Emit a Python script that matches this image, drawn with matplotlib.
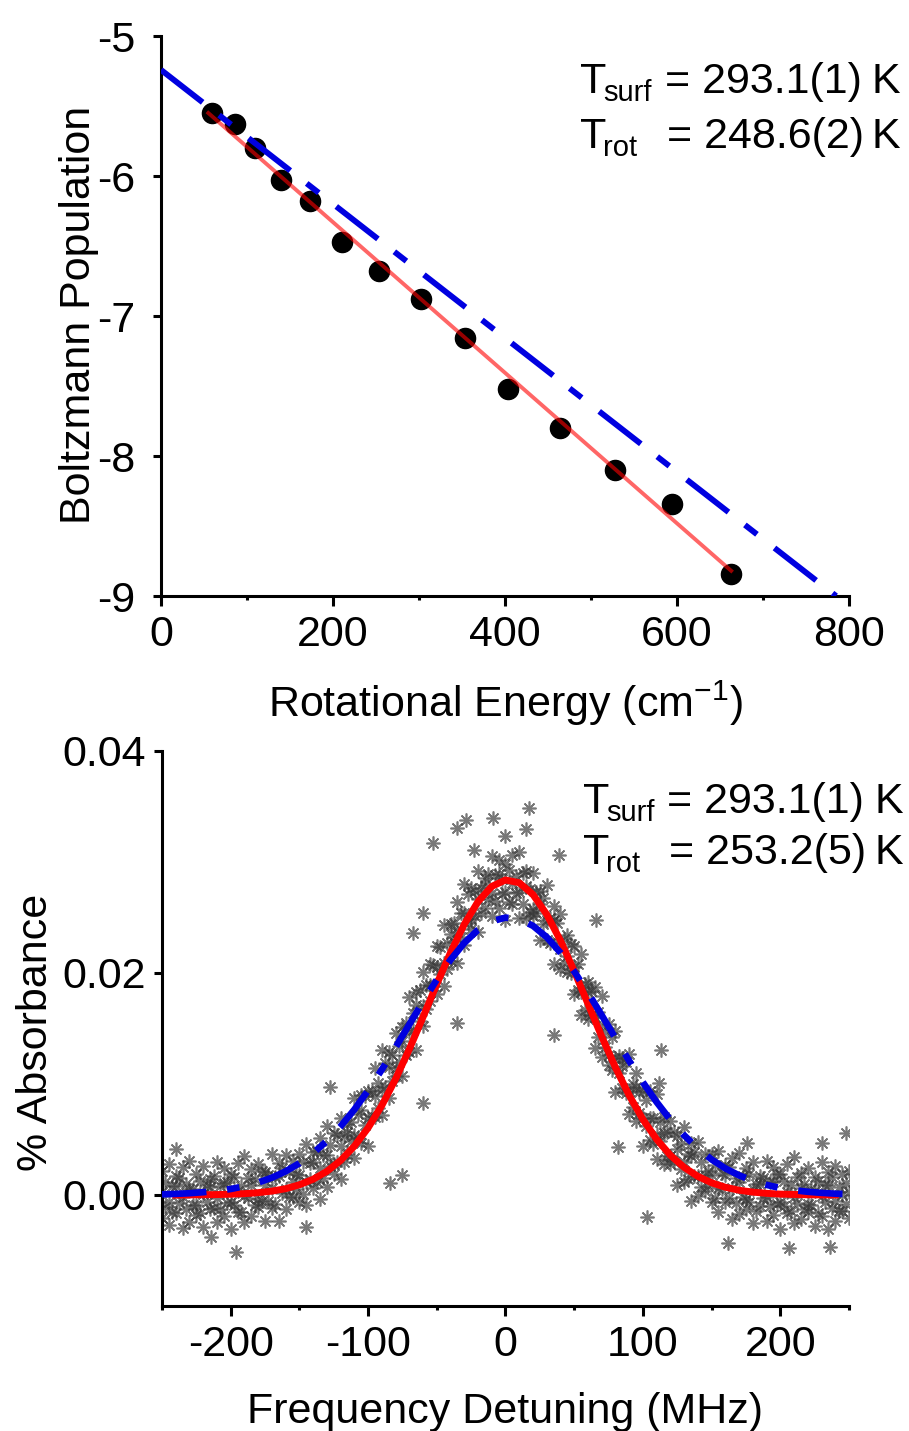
import matplotlib
matplotlib.use('Agg')
import matplotlib.pyplot as plt
from matplotlib.ticker import MultipleLocator, FixedLocator
import numpy as np

plt.rcParams['font.family'] = ['Liberation Sans', 'DejaVu Sans']
plt.rcParams['mathtext.fontset'] = 'custom'
plt.rcParams['mathtext.rm'] = 'Liberation Sans'
plt.rcParams['mathtext.default'] = 'regular'
plt.rcParams['axes.unicode_minus'] = False
plt.rcParams['lines.scale_dashes'] = False

# ---------------- data: top panel (Boltzmann plot) ----------------
rot_energy = [59, 86, 109, 139, 173, 211, 254, 302, 353, 404, 464, 528, 594, 663]
boltz_pop = [-5.55, -5.63, -5.80, -6.03, -6.18, -6.47, -6.68, -6.88, -7.16,
             -7.52, -7.80, -8.10, -8.34, -8.84]
fit_rot_x = [55, 663]
fit_rot_y = [-5.55, -8.82]
surf_x = [0, 785]
surf_y = [-5.242, -9.0]

# ---------------- data: bottom panel (Doppler profile) ----------------
detuning = [-250, -245, -240, -235, -230, -225, -220, -215, -210, -205,
            -200, -195, -190, -185, -180, -175, -170, -165, -160, -155,
            -150, -145, -140, -135, -130, -125, -120, -115, -110, -105,
            -100, -95, -90, -85, -80, -75, -70, -65, -60, -55,
            -50, -45, -40, -35, -30, -25, -20, -15, -10, -5,
            0, 5, 10, 15, 20, 25, 30, 35, 40, 45,
            50, 55, 60, 65, 70, 75, 80, 85, 90, 95,
            100, 105, 110, 115, 120, 125, 130, 135, 140, 145,
            150, 155, 160, 165, 170, 175, 180, 185, 190, 195,
            200, 205, 210, 215, 220, 225, 230, 235, 240, 245, 250]
absorb_hi = [0.0022, 0.0028, 0.0017, 0.0025, 0.0031, 0.0019, 0.0026, 0.0014, 0.0030, 0.0024,
             0.0019, 0.0029, 0.0035, 0.0023, 0.0028, 0.0021, 0.0037, 0.0029, 0.0036, 0.0031,
             0.0037, 0.0046, 0.0039, 0.0051, 0.0062, 0.0056, 0.0069, 0.0064, 0.0087, 0.0090,
             0.0094, 0.0114, 0.0131, 0.0129, 0.0146, 0.0151, 0.0178, 0.0183, 0.0201, 0.0208,
             0.0224, 0.0243, 0.0244, 0.0264, 0.0280, 0.0277, 0.0292, 0.0286, 0.0305, 0.0302,
             0.0298, 0.0306, 0.0309, 0.0292, 0.0290, 0.0274, 0.0279, 0.0260, 0.0253, 0.0234,
             0.0224, 0.0217, 0.0192, 0.0187, 0.0179, 0.0154, 0.0148, 0.0123, 0.0127, 0.0110,
             0.0094, 0.0094, 0.0091, 0.0070, 0.0067, 0.0053, 0.0061, 0.0047, 0.0048, 0.0037,
             0.0037, 0.0040, 0.0027, 0.0033, 0.0038, 0.0024, 0.0030, 0.0017, 0.0031, 0.0025,
             0.0019, 0.0028, 0.0034, 0.0020, 0.0024, 0.0016, 0.0030, 0.0021, 0.0026, 0.0019, 0.0022]
absorb_mid = [0.0003, -0.0006, 0.0008, -0.0002, 0.0005, -0.0009, 0.0001, 0.0007, -0.0003, 0.0011,
              -0.0006, 0.0004, -0.0001, 0.0009, -0.0004, 0.0009, 0.0006, 0.0017, 0.0005, 0.0012,
              0.0018, 0.0012, 0.0030, 0.0024, 0.0036, 0.0028, 0.0044, 0.0057, 0.0054, 0.0077,
              0.0069, 0.0089, 0.0095, 0.0115, 0.0114, 0.0139, 0.0147, 0.0171, 0.0170, 0.0189,
              0.0205, 0.0209, 0.0235, 0.0237, 0.0254, 0.0249, 0.0267, 0.0279, 0.0272, 0.0289,
              0.0273, 0.0281, 0.0273, 0.0278, 0.0258, 0.0262, 0.0248, 0.0248, 0.0222, 0.0215,
              0.0205, 0.0183, 0.0183, 0.0160, 0.0153, 0.0126, 0.0123, 0.0116, 0.0094, 0.0097,
              0.0069, 0.0069, 0.0055, 0.0056, 0.0035, 0.0041, 0.0030, 0.0035, 0.0017, 0.0018,
              0.0018, 0.0006, 0.0018, 0.0006, 0.0012, -0.0004, 0.0005, 0.0010, -0.0002, 0.0012,
              -0.0006, 0.0003, -0.0002, 0.0006, -0.0008, 0.0004, -0.0001, 0.0009, -0.0005, 0.0000, 0.0003]
absorb_lo = [-0.0021, -0.0027, -0.0016, -0.0030, -0.0024, -0.0018, -0.0029, -0.0013, -0.0024, -0.0019,
             -0.0031, -0.0015, -0.0024, -0.0019, -0.0011, -0.0023, -0.0012, -0.0023, -0.0013, -0.0002,
             -0.0006, -0.0009, 0.0006, -0.0004, 0.0007, 0.0019, 0.0014, 0.0037, 0.0033, 0.0047,
             0.0044, 0.0070, 0.0072, 0.0087, 0.0107, 0.0107, 0.0129, 0.0131, 0.0152, 0.0175,
             0.0181, 0.0188, 0.0211, 0.0209, 0.0225, 0.0240, 0.0237, 0.0259, 0.0251, 0.0259,
             0.0248, 0.0262, 0.0250, 0.0250, 0.0251, 0.0230, 0.0230, 0.0208, 0.0204, 0.0201,
             0.0181, 0.0162, 0.0159, 0.0132, 0.0124, 0.0117, 0.0093, 0.0096, 0.0073, 0.0067,
             0.0044, 0.0050, 0.0032, 0.0028, 0.0028, 0.0009, 0.0012, -0.0005, -0.0001, 0.0004,
             -0.0006, -0.0015, -0.0006, -0.0022, -0.0017, -0.0013, -0.0025, -0.0010, -0.0023, -0.0018,
             -0.0031, -0.0016, -0.0025, -0.0022, -0.0015, -0.0028, -0.0019, -0.0031, -0.0023, -0.0014, -0.0021]
detuning_half = [-247.5, -242.5, -237.5, -232.5, -227.5, -222.5, -217.5, -212.5, -207.5, -202.5,
                 -197.5, -192.5, -187.5, -182.5, -177.5, -172.5, -167.5, -162.5, -157.5, -152.5,
                 -147.5, -142.5, -137.5, -132.5, -127.5, -122.5, -117.5, -112.5, -107.5, -102.5,
                 -97.5, -92.5, -87.5, -82.5, -77.5, -72.5, -67.5, -62.5, -57.5, -52.5,
                 -47.5, -42.5, -37.5, -32.5, -27.5, -22.5, -17.5, -12.5, -7.5, -2.5,
                 2.5, 7.5, 12.5, 17.5, 22.5, 27.5, 32.5, 37.5, 42.5, 47.5,
                 52.5, 57.5, 62.5, 67.5, 72.5, 77.5, 82.5, 87.5, 92.5, 97.5,
                 102.5, 107.5, 112.5, 117.5, 122.5, 127.5, 132.5, 137.5, 142.5, 147.5,
                 152.5, 157.5, 162.5, 167.5, 172.5, 177.5, 182.5, 187.5, 192.5, 197.5,
                 202.5, 207.5, 212.5, 217.5, 222.5, 227.5, 232.5, 237.5, 242.5, 247.5]
absorb_half_hi = [0.0012, 0.0008, 0.0015, 0.0010, 0.0005, 0.0013, 0.0009, 0.0017, 0.0008, 0.0012,
                  0.0016, 0.0008, 0.0015, 0.0014, 0.0022, 0.0018, 0.0016, 0.0024, 0.0021, 0.0019,
                  0.0030, 0.0029, 0.0040, 0.0036, 0.0045, 0.0054, 0.0053, 0.0066, 0.0073, 0.0089,
                  0.0094, 0.0101, 0.0119, 0.0126, 0.0134, 0.0155, 0.0164, 0.0185, 0.0189, 0.0207,
                  0.0223, 0.0227, 0.0245, 0.0254, 0.0271, 0.0274, 0.0277, 0.0289, 0.0288, 0.0285,
                  0.0293, 0.0287, 0.0290, 0.0276, 0.0273, 0.0268, 0.0250, 0.0245, 0.0231, 0.0226,
                  0.0208, 0.0190, 0.0184, 0.0165, 0.0147, 0.0142, 0.0125, 0.0120, 0.0100, 0.0093,
                  0.0086, 0.0069, 0.0066, 0.0057, 0.0057, 0.0046, 0.0037, 0.0039, 0.0030, 0.0022,
                  0.0027, 0.0020, 0.0025, 0.0015, 0.0017, 0.0019, 0.0010, 0.0015, 0.0012, 0.0019,
                  0.0013, 0.0009, 0.0016, 0.0010, 0.0005, 0.0013, 0.0009, 0.0016, 0.0007, 0.0011]
absorb_half_lo = [-0.0011, -0.0015, -0.0007, -0.0013, -0.0009, -0.0016, -0.0006, -0.0012, -0.0013, -0.0007,
                  -0.0009, -0.0015, -0.0003, -0.0009, -0.0005, -0.0005, -0.0008, 0.0002, -0.0002, 0.0005,
                  0.0001, 0.0014, 0.0012, 0.0015, 0.0026, 0.0030, 0.0030, 0.0049, 0.0051, 0.0063,
                  0.0071, 0.0078, 0.0097, 0.0103, 0.0120, 0.0126, 0.0149, 0.0157, 0.0168, 0.0188,
                  0.0199, 0.0204, 0.0228, 0.0232, 0.0245, 0.0251, 0.0254, 0.0267, 0.0265, 0.0271,
                  0.0264, 0.0272, 0.0262, 0.0255, 0.0254, 0.0244, 0.0227, 0.0228, 0.0209, 0.0200,
                  0.0185, 0.0167, 0.0162, 0.0142, 0.0133, 0.0113, 0.0110, 0.0092, 0.0079, 0.0074,
                  0.0062, 0.0046, 0.0049, 0.0035, 0.0031, 0.0023, 0.0014, 0.0017, 0.0007, 0.0008,
                  -0.0003, 0.0005, -0.0003, -0.0007, -0.0002, -0.0006, -0.0014, -0.0003, -0.0010, -0.0008,
                  -0.0010, -0.0014, -0.0007, -0.0013, -0.0009, -0.0016, -0.0006, -0.0012, -0.0014, -0.0008]
outlier_x = [-53, -35, -29, -9, 17, 15, 0, -60, -67, -23, 66, 39,
             -128, -196, -214, -145, -75, -84, -60, -240,
             113, 112, 103, 82, 35, 162, 206, 236, 230, 248, 176, -35]
outlier_y = [0.0317, 0.0331, 0.0338, 0.0340, 0.0349, 0.0330, 0.0323, 0.0254, 0.0236, 0.0311, 0.0248, 0.0306,
             0.0097, -0.0051, -0.0038, -0.0029, 0.0018, 0.0011, 0.0083, 0.0041,
             0.0131, 0.0101, -0.0020, 0.0043, 0.0144, -0.0043, -0.0048, -0.0047, 0.0047, 0.0056, 0.0047, 0.0155]

fit_freq_red = [-240, -230, -220, -210, -200, -190, -180, -170, -160, -150, -140, -130,
                -120, -110, -100, -90, -80, -70, -60, -50, -40, -30, -20, -10, 0,
                10, 20, 30, 40, 50, 60, 70, 80, 90, 100, 110, 120, 130, 140, 150,
                160, 170, 180, 190, 200, 210, 220, 230, 240]
fit_abs_red = [0.00000, 0.00001, 0.00002, 0.00004, 0.00007, 0.00012, 0.00021, 0.00035,
               0.00057, 0.00092, 0.00142, 0.00213, 0.00311, 0.00440, 0.00605, 0.00807,
               0.01045, 0.01314, 0.01604, 0.01900, 0.02185, 0.02439, 0.02643, 0.02780,
               0.02838, 0.02813, 0.02707, 0.02528, 0.02292, 0.02017, 0.01723, 0.01428,
               0.01150, 0.00898, 0.00681, 0.00502, 0.00358, 0.00249, 0.00168, 0.00110,
               0.00070, 0.00043, 0.00026, 0.00015, 0.00008, 0.00005, 0.00002, 0.00001, 0.00001]
fit_freq_blue = [-250, -240, -230, -220, -210, -200, -190, -180, -170, -160, -150, -140,
                 -130, -120, -110, -100, -90, -80, -70, -60, -50, -40, -30, -20, -10, 0,
                 10, 20, 30, 40, 50, 60, 70, 80, 90, 100, 110, 120, 130, 140, 150,
                 160, 170, 180, 190, 200, 210, 220, 230, 240, 250]
fit_abs_blue = [0.00006, 0.00010, 0.00016, 0.00025, 0.00037, 0.00054, 0.00079, 0.00112,
                0.00156, 0.00213, 0.00286, 0.00377, 0.00487, 0.00619, 0.00770, 0.00942,
                0.01130, 0.01330, 0.01537, 0.01743, 0.01940, 0.02119, 0.02271, 0.02389,
                0.02466, 0.02499, 0.02485, 0.02425, 0.02323, 0.02183, 0.02014, 0.01823,
                0.01620, 0.01413, 0.01209, 0.01015, 0.00837, 0.00677, 0.00538, 0.00419,
                0.00320, 0.00240, 0.00177, 0.00128, 0.00091, 0.00063, 0.00043, 0.00029,
                0.00019, 0.00012, 0.00008]

# ---------------- figure ----------------
W, H = 909, 1431
fig = plt.figure(figsize=(W / 100, H / 100), dpi=100)


def fx(px):
    return px / W


def fy(py):
    return 1 - py / H


ax1 = fig.add_axes([fx(161), fy(596), fx(849) - fx(161), fy(36) - fy(596)])
ax2 = fig.add_axes([fx(162), fy(1306), fx(849) - fx(162), fy(751) - fy(1306)])

BLUE = '#0000e0'
FS = 31

# top panel
ax1.plot(rot_energy, boltz_pop, 'o', color='black', ms=14.5, zorder=2)
ax1.plot(fit_rot_x, fit_rot_y, '-', color='red', lw=2.8, alpha=0.6, zorder=3)
l1, = ax1.plot(surf_x, surf_y, '-', color=BLUE, lw=4.2, zorder=4)
l1.set_dashes([38, 15, 11, 16])
ax1.set_xlim(0, 800)
ax1.set_ylim(-9, -5)
ax1.xaxis.set_major_locator(MultipleLocator(200))
ax1.xaxis.set_minor_locator(MultipleLocator(100))
ax1.yaxis.set_major_locator(MultipleLocator(1))

# bottom panel
scat_x = detuning + detuning + detuning + detuning_half + detuning_half + outlier_x
scat_y = absorb_hi + absorb_mid + absorb_lo + absorb_half_hi + absorb_half_lo + outlier_y
ax2.plot(scat_x, scat_y, linestyle='none', marker=(8, 2, 0), ms=10, mew=1.2,
         color='#383838', alpha=0.68, zorder=1)
ax2.plot(fit_freq_red, fit_abs_red, '-', color='#ff0000', lw=5.0, zorder=2)
l2, = ax2.plot(fit_freq_blue, fit_abs_blue, '-', color=BLUE, lw=4.8, zorder=3)
l2.set_dashes([32, 15, 9, 15])
ax2.set_xlim(-250, 250)
ax2.set_ylim(-0.01, 0.04)
ax2.xaxis.set_major_locator(FixedLocator([-200, -100, 0, 100, 200]))
ax2.xaxis.set_minor_locator(FixedLocator([-250, -150, -50, 50, 150, 250]))
ax2.yaxis.set_major_locator(FixedLocator([0.0, 0.02, 0.04]))
ax2.set_yticklabels(['0.00', '0.02', '0.04'])

for ax, ypad in ((ax1, 12.5), (ax2, 5.5)):
    for s in ('top', 'right'):
        ax.spines[s].set_visible(False)
    for s in ('left', 'bottom'):
        ax.spines[s].set_linewidth(2.2)
    ax.tick_params(axis='x', which='major', direction='out', length=7.5, width=2.2,
                   labelsize=FS, pad=6)
    ax.tick_params(axis='x', which='minor', direction='out', length=3, width=2.2)
    ax.tick_params(axis='y', which='major', direction='out', length=6, width=2.2,
                   labelsize=FS, pad=ypad)
    ax.tick_params(axis='y', which='minor', left=False)
    ax.set_facecolor('none')

# axis labels (figure pixel positions)
fig.text(fx(505), fy(717), 'Rotational Energy (cm$^{-1}$)', ha='center',
         va='baseline', fontsize=FS)
fig.text(fx(505), fy(1423), 'Frequency Detuning (MHz)', ha='center',
         va='baseline', fontsize=FS)
fig.text(fx(90), fy(315), 'Boltzmann Population', ha='center', va='baseline',
         rotation=90, rotation_mode='anchor', fontsize=FS)
fig.text(fx(47), fy(1032), '% Absorbance', ha='center', va='baseline',
         rotation=90, rotation_mode='anchor', fontsize=FS)

# temperature annotations
SUB = 21


def annot(x0, base1, base2, val1, val2, xeq, xk):
    fig.text(fx(x0), fy(base1), 'T', fontsize=FS, va='baseline')
    fig.text(fx(x0 + 23), fy(base1 + 8), 'surf', fontsize=SUB, va='baseline')
    fig.text(fx(xeq), fy(base1), '= ' + val1, fontsize=FS, va='baseline')
    fig.text(fx(xk), fy(base1), 'K', fontsize=FS, va='baseline', ha='right')
    fig.text(fx(x0), fy(base2), 'T', fontsize=FS, va='baseline')
    fig.text(fx(x0 + 23), fy(base2 + 8), 'rot', fontsize=SUB, va='baseline')
    fig.text(fx(xeq + 2), fy(base2), '= ' + val2, fontsize=FS, va='baseline')
    fig.text(fx(xk), fy(base2), 'K', fontsize=FS, va='baseline', ha='right')


annot(580, 93, 148, '293.1(1)', '248.6(2)', 665, 900)
annot(583, 813, 864, '293.1(1)', '253.2(5)', 667, 903)

fig.savefig('out.png', dpi=100)
